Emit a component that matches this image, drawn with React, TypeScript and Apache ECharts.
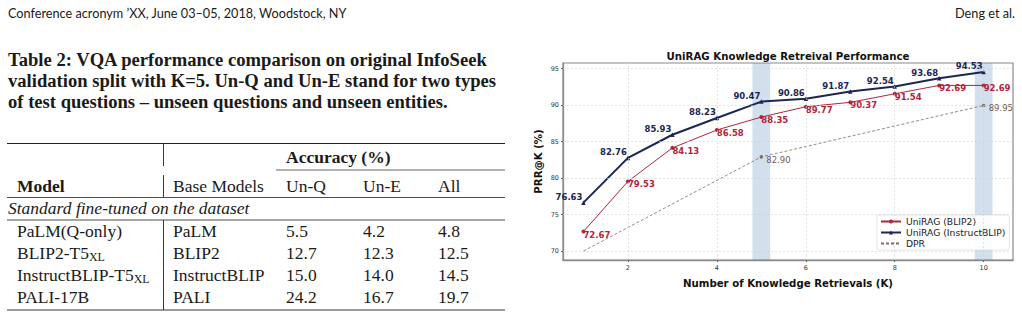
import React, { useEffect, useRef } from 'react';
import * as echarts from 'echarts';

// ---------- chart data ----------
const kValues = [1, 2, 3, 4, 5, 6, 7, 8, 9, 10];
const blip2 = [72.67, 79.53, 84.13, 86.58, 88.35, 89.77, 90.37, 91.54, 92.69, 92.69];
const instructBlip = [76.63, 82.76, 85.93, 88.23, 90.47, 90.86, 91.87, 92.54, 93.68, 94.53];
const dprK = [1, 5, 10];
const dprValues = [70.0, 82.9, 89.95];
const xTicks = [2, 4, 6, 8, 10];
const yTicks = [70, 75, 80, 85, 90, 95];
const highlightK = [5, 10];
const seriesNames = ['UniRAG (BLIP2)', 'UniRAG (InstructBLIP)', 'DPR'];
const chartTitle = 'UniRAG Knowledge Retreival Performance';
const xTitle = 'Number of Knowledge Retrievals (K)';
const yTitle = 'PRR@K (%)';

// ---------- page / table text ----------
const headerLeft = 'Conference acronym ’XX, June 03–05, 2018, Woodstock, NY';
const headerRight = 'Deng et al.';
const captionLines = [
  'Table 2: VQA performance comparison on original InfoSeek',
  'validation split with K=5. Un-Q and Un-E stand for two types',
  'of test questions – unseen questions and unseen entities.',
];
const groupHeader = 'Accuracy (%)';
const columnHeaders = ['Model', 'Base Models', 'Un-Q', 'Un-E', 'All'];
const sectionLabel = 'Standard fine-tuned on the dataset';
const nextSectionLabel = 'Fine-tuned with knowledge';
const tableModels = ['PaLM(Q-only)', 'BLIP2-T5', 'InstructBLIP-T5', 'PALI-17B'];
const tableModelSubs = ['', 'XL', 'XL', ''];
const tableBase = ['PaLM', 'BLIP2', 'InstructBLIP', 'PALI'];
const tableUnQ = ['5.5', '12.7', '15.0', '24.2'];
const tableUnE = ['4.2', '12.3', '14.0', '16.7'];
const tableAll = ['4.8', '12.5', '14.5', '19.7'];

const NAVY = '#1b2655';
const RED = '#b1253b';
const DPRC = '#806b64';
const SERIF = '"Liberation Serif", serif';
const SANS = '"DejaVu Sans", sans-serif';
const HEAD = '"Lato", sans-serif';

export default function App() {
  const ref = useRef<HTMLDivElement>(null);

  useEffect(() => {
    document.body.style.margin = '0';
    const chart = echarts.init(ref.current!, undefined, { renderer: 'svg' });

    const ink = '#1a1a1a';
    const text = (x: number, y: number, t: string, o: any = {}) => ({
      type: 'text',
      x,
      y,
      silent: true,
      style: {
        text: t,
        fill: o.fill || ink,
        fontFamily: o.fontFamily || SERIF,
        fontSize: o.fontSize || 17.5,
        fontWeight: o.fontWeight || 'normal',
        fontStyle: o.fontStyle || 'normal',
        align: o.align || 'left',
        verticalAlign: 'middle',
        rich: o.rich,
      },
    });
    const hline = (x1: number, x2: number, y: number, w: number) => ({
      type: 'line',
      silent: true,
      shape: { x1, y1: y, x2, y2: y },
      style: { stroke: '#222', lineWidth: w },
    });
    const vline = (x: number, y1: number, y2: number) => ({
      type: 'line',
      silent: true,
      shape: { x1: x, y1, x2: x, y2 },
      style: { stroke: '#222', lineWidth: 0.9 },
    });

    const colX = [17, 173, 286, 363, 438];
    const rowY = [230.7, 252.7, 275, 296.7];
    const graphics: any[] = [];
    graphics.push(text(8, 12.5, headerLeft, { fontFamily: HEAD, fontSize: 12.7 }));
    graphics.push(text(1015, 12.5, headerRight, { fontFamily: HEAD, fontSize: 12.7, align: 'right' }));
    const capY = [59.5, 80.5, 101.5];
    captionLines.forEach((l, i) => graphics.push(text(8, capY[i], l, { fontWeight: 'bold', fontSize: 18.6 })));
    graphics.push(hline(7, 505, 143.5, 1.2));
    graphics.push(vline(163.5, 144, 166));
    graphics.push(vline(163.5, 175, 197));
    graphics.push(vline(163.5, 220, 310));
    graphics.push(text(286, 156.7, groupHeader, { fontWeight: 'bold' }));
    graphics.push(hline(276, 505, 170, 0.7));
    columnHeaders.forEach((h, i) =>
      graphics.push(text(colX[i], 186, h, { fontWeight: i === 0 ? 'bold' : 'normal' }))
    );
    graphics.push(hline(7, 505, 197.5, 0.8));
    graphics.push(text(8, 207.7, sectionLabel, { fontStyle: 'italic' }));
    graphics.push(hline(7, 505, 220, 0.8));
    tableModels.forEach((m, i) => {
      const sub = tableModelSubs[i];
      graphics.push(
        text(colX[0], rowY[i], sub ? `{m|${m}}{s|${sub}}` : m, {
          rich: sub
            ? {
                m: { fontSize: 17.5, fontFamily: SERIF, fill: ink, lineHeight: 20, verticalAlign: 'middle' },
                s: { fontSize: 12, fontFamily: SERIF, fill: ink, lineHeight: 20, verticalAlign: 'bottom' },
              }
            : undefined,
        })
      );
      graphics.push(text(colX[1], rowY[i], tableBase[i]));
      graphics.push(text(colX[2], rowY[i], tableUnQ[i]));
      graphics.push(text(colX[3], rowY[i], tableUnE[i]));
      graphics.push(text(colX[4], rowY[i], tableAll[i]));
    });
    graphics.push(hline(7, 505, 310, 0.9));
    graphics.push(text(17, 321, nextSectionLabel, { fontStyle: 'italic' }));
    graphics.push({
      type: 'text',
      x: 788,
      y: 56.5,
      silent: true,
      style: {
        text: chartTitle,
        fill: '#111',
        fontFamily: SANS,
        fontSize: 10.2,
        fontWeight: 'bold',
        align: 'center',
        verticalAlign: 'middle',
      },
    });

    const labelBase = { fontFamily: SANS, fontSize: 8.5, fontWeight: 'bold' };
    const fmt = (p: any) => Number(p.value[1]).toFixed(2);
    const axisName = { fontFamily: SANS, fontSize: 10.2, fontWeight: 'bold', color: '#111' };

    const option: any = {
      animation: false,
      backgroundColor: '#fff',
      graphic: graphics,
      grid: { left: 563, top: 63, width: 450, height: 197, show: true, borderColor: '#8a8a8a', borderWidth: 1.2, backgroundColor: 'transparent' },
      xAxis: {
        type: 'value',
        min: 0.54,
        max: 10.66,
        name: xTitle,
        nameLocation: 'middle',
        nameGap: 18,
        nameTextStyle: axisName,
        axisLine: { show: true, lineStyle: { color: '#8a8a8a', width: 1.3 } },
        axisTick: { show: true, length: 2, customValues: xTicks, lineStyle: { color: '#666' } },
        axisLabel: { customValues: xTicks, fontFamily: SANS, fontSize: 6.5, color: '#333', margin: 4 },
        splitLine: { show: false },
      },
      yAxis: {
        type: 'value',
        min: 68.77,
        max: 95.76,
        name: yTitle,
        nameLocation: 'middle',
        nameGap: 20,
        nameTextStyle: axisName,
        axisLine: { show: true, lineStyle: { color: '#8a8a8a', width: 1.3 } },
        axisTick: { show: true, length: 2, customValues: yTicks, lineStyle: { color: '#666' } },
        axisLabel: { customValues: yTicks, fontFamily: SANS, fontSize: 6.5, color: '#333', margin: 4 },
        splitLine: { show: false },
      },
      legend: {
        orient: 'vertical',
        left: 877,
        top: 215,
        data: [
          { name: seriesNames[0] },
          { name: seriesNames[1] },
          { name: seriesNames[2], itemStyle: { opacity: 0 } },
        ],
        backgroundColor: 'rgba(255,255,255,0.9)',
        borderColor: '#dcdcdc',
        borderWidth: 0.8,
        borderRadius: 2,
        padding: [2, 4, 2, 3],
        itemGap: 2,
        itemWidth: 20,
        itemHeight: 5,
        textStyle: { fontFamily: SANS, fontSize: 9.2, color: '#222' },
      },
      series: [
        {
          name: 'helper',
          type: 'line',
          data: [],
          z: 1,
          silent: true,
          markArea: {
            silent: true,
            itemStyle: { color: 'rgba(70,130,180,0.25)' },
            data: highlightK.map((k) => [{ xAxis: k - 0.2 }, { xAxis: k + 0.2 }]),
          },
          markLine: {
            silent: true,
            symbol: 'none',
            label: { show: false },
            lineStyle: { color: '#d0d0d0', type: [2, 2], width: 0.6 },
            data: [
              ...xTicks.map((v) => ({ xAxis: v })),
              ...yTicks.map((v) => ({ yAxis: v })),
            ],
          },
        },
        {
          name: seriesNames[0],
          type: 'line',
          z: 3,
          data: kValues.map((k, i) => [k, blip2[i]]),
          color: RED,
          lineStyle: { width: 1, color: RED },
          symbol: 'circle',
          symbolSize: 4,
          itemStyle: { color: RED },
          label: {
            show: true,
            position: ['50%', '50%'],
            align: 'left',
            verticalAlign: 'top',
            offset: [0, -1.5],
            color: RED,
            ...labelBase,
            formatter: fmt,
          },
        },
        {
          name: seriesNames[1],
          type: 'line',
          z: 4,
          data: kValues.map((k, i) => [k, instructBlip[i]]),
          color: NAVY,
          lineStyle: { width: 2, color: NAVY },
          symbol: 'triangle',
          symbolSize: 4.5,
          itemStyle: { color: NAVY },
          label: {
            show: true,
            position: ['50%', '50%'],
            align: 'right',
            verticalAlign: 'bottom',
            offset: [-1, -1],
            color: NAVY,
            ...labelBase,
            formatter: fmt,
          },
        },
        {
          name: seriesNames[2],
          type: 'line',
          z: 2,
          data: dprK.map((k, i) =>
            i === 0
              ? { value: [k, dprValues[i]], label: { show: false } }
              : { value: [k, dprValues[i]], symbol: 'circle', symbolSize: 3.5 }
          ),
          color: DPRC,
          lineStyle: { width: 0.8, color: DPRC, type: [3, 2] },
          symbol: 'none',
          showSymbol: true,
          itemStyle: { color: DPRC },
          label: {
            show: true,
            position: ['50%', '50%'],
            align: 'left',
            verticalAlign: 'middle',
            offset: [5, 3],
            color: '#6e5d57',
            fontFamily: SANS,
            fontSize: 8.5,
            formatter: fmt,
          },
        },
      ],
    };
    chart.setOption(option);
    return () => chart.dispose();
  }, []);

  return <div ref={ref} style={{ position: 'fixed', left: 0, top: 0, width: 1022, height: 314, background: '#fff' }} />;
}
